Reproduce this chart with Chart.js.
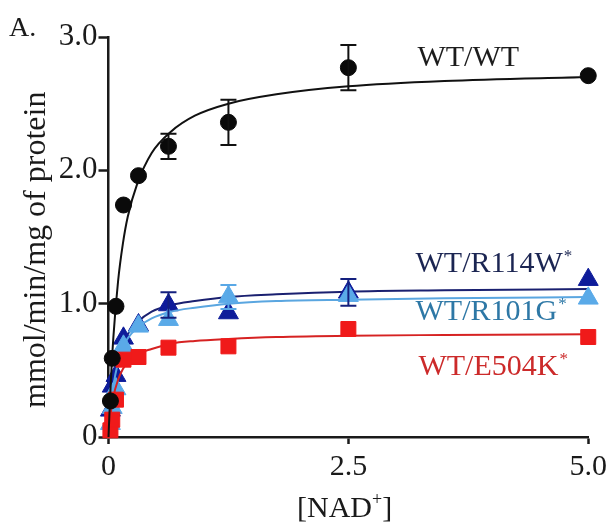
<!DOCTYPE html>
<html>
<head>
<meta charset="utf-8">
<script src="https://cdn.jsdelivr.net/npm/chart.js@4.4.1/dist/chart.umd.min.js"></script>
<style>
  html, body { margin: 0; padding: 0; background: #fff; }
  canvas { display: block; }
</style>
</head>
<body>
<canvas id="chart" width="612" height="524"></canvas>
<script>
// measured points, [NAD+] on x
const nad = [0.02, 0.039, 0.078, 0.156, 0.3125, 0.625, 1.25, 2.5, 5.0];
const wtWt = [0.27, 0.59, 0.98, 1.74, 1.96, 2.18, 2.36, 2.77, 2.71];
const wtWtErr = [0, 0, 0, 0, 0, 0.095, 0.17, 0.17, 0];
const wtR114W = [0.20, 0.38, 0.46, 0.74, 0.84, 0.99, 0.93, 1.085, 1.18];
const wtR114WErr = [0, 0, 0, 0, 0, 0.095, 0, 0.10, 0];
const wtR101G = [0.10, 0.22, 0.36, 0.68, 0.83, 0.88, 1.05, 1.06, 1.04];
const wtR101GErr = [0, 0, 0, 0, 0, 0, 0.09, 0, 0];
const wtE504K = [0.05, 0.13, 0.28, 0.58, 0.60, 0.67, 0.68, 0.81, 0.75];

// fitted curves
const fitX = [0, 0.02, 0.05, 0.1, 0.15, 0.2, 0.3, 0.45, 0.65, 0.9, 1.25, 1.75, 2.5, 3.5, 5.0];
const fitWtWt = [0, 0.35, 0.74, 1.17, 1.45, 1.65, 1.90, 2.13, 2.29, 2.41, 2.50, 2.57, 2.63, 2.67, 2.70];
const fitR114W = [0, 0.20, 0.39, 0.58, 0.70, 0.77, 0.86, 0.94, 0.99, 1.02, 1.05, 1.07, 1.09, 1.10, 1.11];
const fitR101G = [0, 0.19, 0.38, 0.56, 0.67, 0.74, 0.82, 0.89, 0.94, 0.97, 1.00, 1.02, 1.03, 1.04, 1.05];
const fitE504K = [0, 0.16, 0.30, 0.43, 0.51, 0.56, 0.62, 0.66, 0.70, 0.72, 0.735, 0.75, 0.76, 0.765, 0.77];

const xTicks = [0, 2.5, 5.0];
const yTicks = [0, 1.0, 2.0, 3.0];

const FONT = "'Liberation Serif', 'Times New Roman', serif";
const INK = '#1a1a1a';

const pts = (xs, ys) => xs.map((v, i) => ({ x: v, y: ys[i] }));

function markers(label, ys, style, radius, color, order) {
    return {
        label: label,
        data: pts(nad, ys),
        showLine: false,
        pointStyle: style,
        pointRadius: radius,
        pointHoverRadius: radius,
        pointBackgroundColor: color,
        pointBorderColor: color,
        pointBorderWidth: 1,
        clip: false,
        order: order
    };
}

function curve(label, ys, color, order) {
    return {
        label: label,
        data: pts(fitX, ys),
        showLine: true,
        borderColor: color,
        borderWidth: 2,
        pointRadius: 0,
        cubicInterpolationMode: 'monotone',
        fill: false,
        clip: false,
        order: order
    };
}

const errorSets = [
    { values: wtWt, err: wtWtErr, color: '#111111' },
    { values: wtR114W, err: wtR114WErr, color: '#14207e' },
    { values: wtR101G, err: wtR101GErr, color: '#5aa8e6' }
];

// series name labels, anchored in data units (x, baseline y)
const seriesLabels = [
    { text: 'WT/WT', star: false, x: 3.22, y: 2.78, color: '#1c1c1c' },
    { text: 'WT/R114W', star: true, x: 3.2, y: 1.24, color: '#1b2552' },
    { text: 'WT/R101G', star: true, x: 3.2, y: 0.88, color: '#2e78a6' },
    { text: 'WT/E504K', star: true, x: 3.23, y: 0.465, color: '#cc2a2a' }
];

const overlay = {
    id: 'overlay',
    afterDatasetsDraw(chart) {
        const ctx = chart.ctx;
        const xs = chart.scales.x, ys = chart.scales.y;

        errorSets.forEach(s => {
            ctx.save();
            ctx.strokeStyle = s.color;
            ctx.lineWidth = 2;
            nad.forEach((v, i) => {
                const e = s.err[i];
                if (!e) return;
                const px = xs.getPixelForValue(v);
                const top = ys.getPixelForValue(s.values[i] + e);
                const bot = ys.getPixelForValue(s.values[i] - e);
                ctx.beginPath();
                ctx.moveTo(px, top); ctx.lineTo(px, bot);
                ctx.moveTo(px - 8, top); ctx.lineTo(px + 8, top);
                ctx.moveTo(px - 8, bot); ctx.lineTo(px + 8, bot);
                ctx.stroke();
            });
            ctx.restore();
        });

        ctx.save();
        ctx.textBaseline = 'alphabetic';
        ctx.textAlign = 'left';
        seriesLabels.forEach(l => {
            const px = xs.getPixelForValue(l.x);
            const py = ys.getPixelForValue(l.y);
            ctx.fillStyle = l.color;
            ctx.font = '30px ' + FONT;
            ctx.fillText(l.text, px, py);
            if (l.star) {
                const w = ctx.measureText(l.text).width;
                ctx.font = '17px ' + FONT;
                ctx.fillText('*', px + w + 1, py - 11);
            }
        });
        ctx.restore();
    },
    afterDraw(chart) {
        const ctx = chart.ctx;
        ctx.save();
        ctx.fillStyle = INK;
        ctx.textBaseline = 'alphabetic';
        ctx.textAlign = 'left';

        // panel letter
        ctx.font = '28px ' + FONT;
        ctx.fillText('A.', 9, 36);

        // x axis title with superscript plus
        ctx.font = '30px ' + FONT;
        let x = 297;
        const base = 517;
        ctx.fillText('[NAD', x, base);
        x += ctx.measureText('[NAD').width;
        ctx.font = '18px ' + FONT;
        ctx.fillText('+', x, base - 12);
        x += ctx.measureText('+').width;
        ctx.font = '30px ' + FONT;
        ctx.fillText(']', x, base);

        // y axis title
        ctx.translate(45, 408);
        ctx.rotate(-Math.PI / 2);
        ctx.font = '32px ' + FONT;
        ctx.fillText('mmol/min/mg of protein', 0, 0);
        ctx.restore();
    }
};

new Chart(document.getElementById('chart'), {
    type: 'scatter',
    data: {
        datasets: [
            markers('WT/WT', wtWt, 'circle', 8, '#0a0a0a', 0),
            curve('WT/WT fit', fitWtWt, '#111111', 1),
            markers('WT/E504K*', wtE504K, 'rect', 10.6, '#f01a1a', 2),
            curve('WT/E504K* fit', fitE504K, '#d62222', 3),
            markers('WT/R101G*', wtR101G, 'triangle', 11.5, '#5aaae8', 4),
            curve('WT/R101G* fit', fitR101G, '#5aa6e0', 5),
            markers('WT/R114W*', wtR114W, 'triangle', 11.5, '#0e1c9a', 6),
            curve('WT/R114W* fit', fitR114W, '#1a2070', 7)
        ]
    },
    options: {
        responsive: false,
        animation: false,
        devicePixelRatio: 1,
        layout: { padding: { left: 0, right: 21, top: 37, bottom: 0 } },
        plugins: {
            legend: { display: false },
            tooltip: { enabled: false }
        },
        scales: {
            x: {
                type: 'linear',
                min: 0,
                max: 5,
                afterFit(scale) { scale.height = 87; },
                afterBuildTicks(scale) { scale.ticks = xTicks.map(v => ({ value: v })); },
                border: { display: true, width: 2.5, color: INK },
                grid: { display: true, drawOnChartArea: false, drawTicks: true, tickLength: 7, tickWidth: 2.5, tickColor: INK },
                ticks: {
                    color: INK,
                    padding: 5,
                    maxRotation: 0,
                    font: { family: FONT, size: 30 },
                    callback: v => (v === 0 ? '0' : v.toFixed(1))
                }
            },
            y: {
                type: 'linear',
                min: 0,
                max: 3,
                afterFit(scale) { scale.width = 108.5; },
                afterBuildTicks(scale) { scale.ticks = yTicks.map(v => ({ value: v })); },
                border: { display: true, width: 2.5, color: INK },
                grid: { display: true, drawOnChartArea: false, drawTicks: true, tickLength: 10, tickWidth: 2.5, tickColor: INK },
                ticks: {
                    color: INK,
                    padding: 1,
                    font: { family: FONT, size: 31 },
                    callback: v => (v === 0 ? '0' : v.toFixed(1))
                }
            }
        }
    },
    plugins: [overlay]
});
</script>
</body>
</html>
